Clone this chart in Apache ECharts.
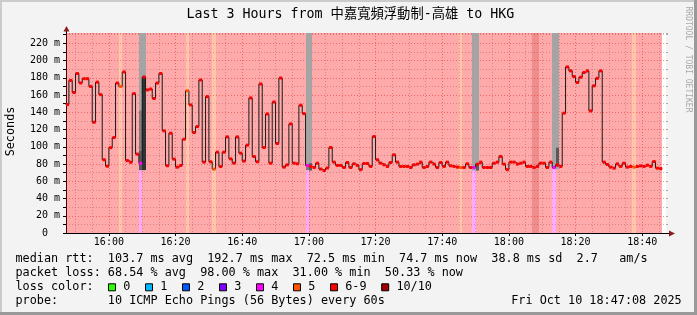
<!DOCTYPE html>
<html><head><meta charset="utf-8">
<script src="https://cdn.jsdelivr.net/npm/echarts@6/dist/echarts.min.js"></script>
<style>html,body{margin:0;padding:0;background:#f3f3f3;overflow:hidden}#c{width:697px;height:315px}</style>
</head><body><div id="c"></div>
<script>
// ---------------- data ----------------
const titleText = 'Last 3 Hours from 中嘉寬頻浮動制-高雄 to HKG';
const yAxisName = 'Seconds';
const windowStart = '15:47:08';
const windowEnd = '18:47:08';
const firstSample = '15:47';          // one sample per minute from here
const medianMs = [149,
  177,163,185,174,179,179,170,128.5,175,160.5,
  85,77.5,99,110.7,174,170,186.8,84,82,161.7,
  91.5,81,181,166,167,156,174,185,118.5,78,
  115.8,85.7,76.4,78.3,108.8,165,148.6,116.5,123.5,177.5,
  82.2,158.2,82.6,74.1,93.8,77.1,93.8,111.5,86,81,
  111.5,92.6,83.4,101.9,156.7,88.7,82.6,172.9,99.1,138.1,
  81,152,103.8,179.8,76.4,79.1,126.6,81,80.3,148.2,
  138.5,78.3,77.1,76,81,74.2,72.5,75.4,99.2,82.2,
  78.4,78.4,76,81.8,76,80.3,78.4,73.5,80.6,80.6,
  77.2,111.9,84.9,81,79.1,77.2,81.8,90.7,82.2,77.2,
  77.2,77.2,76,79.1,79.9,82.2,76,77.2,82.2,79.9,
  76,81.8,77.2,82.2,78,77.2,76.4,76,76,80.3,
  76,76,79.9,82.2,76,76,76,81,82.2,88.8,
  79.9,73.5,82.2,82.2,79.9,81,82.2,77.2,77.2,76,
  77.2,81,81,76,82.2,76,79.1,77.2,139,192.7,
  188.1,181.5,174.6,180.7,186.2,188.1,141.6,170.7,179.5,188.1,
  82.2,79.5,76.4,75.2,80.2,77.2,81,76.4,77.2,76.4,
  77.2,77.9,77.2,78.7,77.2,82.9,75.2,74.7];
const baseLossClass = '6-9';
const lossExceptionTimes = ['16:03','16:09','16:23','16:31','16:59','17:45','17:49','18:07','18:08','18:13','18:37'];
const lossExceptionClass = ['5','4','5','5','4','5','4','10/10','10/10','4','5'];
const smokeTimes   = ['16:09','16:09','16:09','16:10','16:10','16:59','16:59','17:00','17:00','17:49','17:50','17:50','18:13','18:14','18:14'];
const smokeLowMs   = [73,73,73,73,73,73,73,72.5,72.5,72.5,72.5,72.5,74,74,77];
const smokeHighMs  = [232,142,95,232,181,232,80,232,81,232,232,81,232,232,99];
const smokeDensity = [1,2,3,1,4,1,2,1,3,1,1,3,1,1,3];
const timeTickLabels = ['16:00','16:20','16:40','17:00','17:20','17:40','18:00','18:20','18:40'];
const yTickValues = [0,20,40,60,80,100,120,140,160,180,200,220];
const yMaxMs = 232;
const lossLegendLabels = ['0','1','2','3','4','5','6-9','10/10'];
const rttStatValues = [103.7,192.7,72.5,74.7,38.8];
const rttStatNames = ['avg','max','min','now','sd'];
const amPerSecond = 2.7;
const lossStatValues = [68.54,98.00,31.00,50.33];
const lossStatNames = ['avg','max','min','now'];
const probeText = '10 ICMP Echo Pings (56 Bytes) every 60s';
const dateText = 'Fri Oct 10 18:47:08 2025';
const sideText = 'RRDTOOL / TOBI OETIKER';

// ---------------- styles / layout ----------------
const MONO = '"DejaVu Sans Mono", "Noto Sans CJK TC", monospace';
const lossColor = {'0':'#26ff00','1':'#00b8ff','2':'#0059ff','3':'#7e00ff','4':'#ff00ff','5':'#ff5500','6-9':'#ff0000','10/10':'#a10000'};
const bgColor = {'4':'rgba(255,0,255,0.333)','5':'rgba(255,85,0,0.333)','6-9':'rgba(255,0,0,0.333)','10/10':'rgba(220,0,0,0.45)'};
const markerColor = {'4':'#ff00ff','5':'#ff5500','6-9':'#ff0000','10/10':'#ff0000'};
const smokeColor = {1:'#a4a4a4',2:'#7c7c7c',3:'#5a5a5a',4:'#333333'};
const G = {left:66, right:31, top:33, bottom:82};
const W = 697, H = 315;

function toMin(s){const p=s.split(':').map(Number);return p[0]*60+p[1]+(p[2]||0)/60;}
const X0 = toMin(windowStart), X1 = toMin(windowEnd), T0 = toMin(firstSample);
const majorX = timeTickLabels.map(toMin);
const minorX = [];
for (let m = Math.ceil(X0/5)*5; m <= X1; m += 5) if (m % 20 !== 0) minorX.push(m);

// per-minute loss class -> runs
const exMap = {};
lossExceptionTimes.forEach((t,i)=>{exMap[toMin(t)] = lossExceptionClass[i];});
const classes = medianMs.map((v,i)=> exMap[T0+i] || baseLossClass);
const bgRuns = [];
classes.forEach((c,i)=>{
  const last = bgRuns[bgRuns.length-1];
  if (last && last[2] === c) last[1] = T0+i+1; else bgRuns.push([T0+i, T0+i+1, c]);
});
const linePts = medianMs.map((v,i)=>[T0+i, v]);
linePts.push([T0+medianMs.length, medianMs[medianMs.length-1]]);
const markerData = medianMs.map((v,i)=>[T0+i, v, classes[i]]);
const smokeData = smokeTimes.map((t,i)=>[toMin(t), smokeLowMs[i], smokeHighMs[i], smokeDensity[i]]);

const chart = echarts.init(document.getElementById('c'), null, {renderer:'canvas'});

const gridColorMajor = 'rgba(224,80,80,0.6)';
const gridColorMinor = 'rgba(150,150,150,0.55)';

// graphics (decorations & legend text)
const gfx = [];
gfx.push({type:'rect', shape:{x:0,y:0,width:W,height:2}, style:{fill:'#cbcbcb'}, silent:true});
gfx.push({type:'rect', shape:{x:0,y:0,width:2,height:H}, style:{fill:'#cbcbcb'}, silent:true});
gfx.push({type:'rect', shape:{x:0,y:H-3,width:W,height:3}, style:{fill:'#999999'}, silent:true});
gfx.push({type:'rect', shape:{x:W-3,y:0,width:3,height:H}, style:{fill:'#999999'}, silent:true});
gfx.push({type:'text', x:186.5, y:15, style:{text:titleText, font:'13.3px '+MONO, fill:'#000', align:'left', verticalAlign:'middle'}});
gfx.push({type:'text', x:10.5, y:131.5, rotation:Math.PI/2, style:{text:yAxisName, font:'11.8px '+MONO, fill:'#000', align:'center', verticalAlign:'middle'}});
gfx.push({type:'text', x:688, y:59.5, rotation:-Math.PI/2, style:{text:sideText, font:'8px '+MONO, fill:'#a8a8a8', align:'center', verticalAlign:'middle'}});
// axis extensions and arrows
const axX = G.left + 0.5, axY = H - G.bottom + 0.5;
gfx.push({type:'line', shape:{x1:axX,y1:G.top,x2:axX,y2:G.top-2}, style:{stroke:'#000',lineWidth:1}, z:10});
gfx.push({type:'line', shape:{x1:W-G.right,y1:axY,x2:W-G.right+3,y2:axY}, style:{stroke:'#000',lineWidth:1}, z:10});
gfx.push({type:'polygon', shape:{points:[[axX-3,G.top-1.5],[axX+3,G.top-1.5],[axX,G.top-7]]}, style:{fill:'#8c1c1c'}, z:10});
gfx.push({type:'polygon', shape:{points:[[W-G.right+3,axY-3],[W-G.right+3,axY+3],[W-G.right+9,axY]]}, style:{fill:'#8c1c1c'}, z:10});
// legend rows
const CW = 7.1, LX = 15.5;
const rowY = [259, 273.3, 287.3, 301];
const row1 = 'median rtt:  ' + rttStatValues.map((v,i)=>v.toFixed(1)+' ms '+rttStatNames[i]).join('  ') + '  ' + amPerSecond.toFixed(1) + '   am/s';
const row2 = 'packet loss: ' + lossStatValues.map((v,i)=>v.toFixed(2)+' % '+lossStatNames[i]).join('  ');
const legendFont = '11.8px ' + MONO;
[row1,row2,'loss color:','probe:       '+probeText].forEach((t,i)=>{
  gfx.push({type:'text', x:LX, y:rowY[i], style:{text:t, font:legendFont, fill:'#000', align:'left', verticalAlign:'middle'}});
});
gfx.push({type:'text', x:681.7, y:rowY[3], style:{text:dateText, font:legendFont, fill:'#000', align:'right', verticalAlign:'middle'}});
let bx = 108;
lossLegendLabels.forEach((lab)=>{
  gfx.push({type:'rect', shape:{x:bx+0.5,y:rowY[2]-3.5,width:7,height:7}, style:{fill:lossColor[lab], stroke:'#000', lineWidth:1}});
  const lx = bx + 15.2;
  gfx.push({type:'text', x:lx, y:rowY[2], style:{text:lab, font:legendFont, fill:'#000', align:'left', verticalAlign:'middle'}});
  bx = lx + lab.length*CW + 14.7;
});

function rectFromTo(api, t0, t1, v0, v1){
  const a = api.coord([t0, v1]), b = api.coord([t1, v0]);
  const x0 = Math.round(a[0]), x1 = Math.round(b[0]);
  return {x:x0, y:a[1], width:x1-x0, height:b[1]-a[1]};
}

chart.setOption({
  animation:false,
  backgroundColor:'#f3f3f3',
  grid:{left:G.left, right:G.right, top:G.top, bottom:G.bottom, show:true, backgroundColor:'#ffffff', borderWidth:0, containLabel:false},
  xAxis:[{
    type:'value', min:X0, max:X1, position:'bottom',
    axisLine:{show:true, onZero:false, lineStyle:{color:'#000', width:1}},
    axisTick:{show:true, customValues:majorX, length:3, lineStyle:{color:'#000'}},
    axisLabel:{show:true, customValues:majorX, formatter:(v)=>timeTickLabels[majorX.indexOf(v)] || '', fontFamily:MONO, fontSize:10, color:'#000', margin:4},
    splitLine:{show:true, lineStyle:{color:gridColorMajor, type:[1,2], width:1}}
  },{
    type:'value', min:X0, max:X1, position:'top',
    axisLine:{show:false}, axisTick:{show:false, customValues:minorX}, axisLabel:{show:false},
    splitLine:{show:true, lineStyle:{color:gridColorMinor, type:[1,2], width:1}}
  }],
  yAxis:[{
    type:'value', min:0, max:yMaxMs, interval:10,
    axisLine:{show:true, onZero:false, lineStyle:{color:'#000', width:1}},
    axisTick:{show:true, length:3, lineStyle:{color:'#000'}},
    axisLabel:{showMaxLabel:false, formatter:(v)=> yTickValues.indexOf(v) < 0 ? '' : (v===0 ? '0  ' : v+' m'), fontFamily:MONO, fontSize:10, color:'#000', margin:6},
    splitLine:{show:true, lineStyle:{color:[gridColorMajor, gridColorMinor], type:[1,2], width:1}}
  },{
    type:'value', min:0, max:yMaxMs, interval:10, position:'right',
    axisLine:{show:false}, axisTick:{show:true, length:2, lineStyle:{color:'#aaaaaa'}}, axisLabel:{show:false}, splitLine:{show:false}
  }],
  series:[
    {type:'custom', name:'lossbg', clip:true, silent:true, z:2, data:bgRuns,
     encode:{x:[0,1], y:-1},
     renderItem:(p, api)=>{
       const t0 = api.value(0), t1 = api.value(1), c = bgRuns[p.dataIndex][2];
       return {type:'rect', shape:rectFromTo(api, t0, t1, 0, yMaxMs), style:{fill:bgColor[c]}};
     }},
    {type:'custom', name:'smoke', clip:true, silent:true, z:3, data:smokeData,
     encode:{x:0, y:[1,2]},
     renderItem:(p, api)=>{
       const t = api.value(0);
       return {type:'rect', shape:rectFromTo(api, t, t+1, api.value(1), api.value(2)), style:{fill:smokeColor[api.value(3)]}};
     }},
    {type:'line', name:'median', data:linePts, step:'end', showSymbol:false, symbol:'none', clip:true, silent:true, z:4,
     lineStyle:{color:'#1a1a1a', width:1}},
    {type:'custom', name:'lossmarker', clip:true, silent:true, z:5, data:markerData,
     encode:{x:0, y:1},
     renderItem:(p, api)=>{
       const t = api.value(0), v = api.value(1), c = markerData[p.dataIndex][2];
       const a = api.coord([t, v]), b = api.coord([t+1, v]);
       return {type:'rect', shape:{x:a[0]+0.3, y:a[1]-1.5, width:b[0]-a[0]-0.3, height:3}, style:{fill:markerColor[c]}};
     }}
  ],
  graphic:gfx
});
</script></body></html>
